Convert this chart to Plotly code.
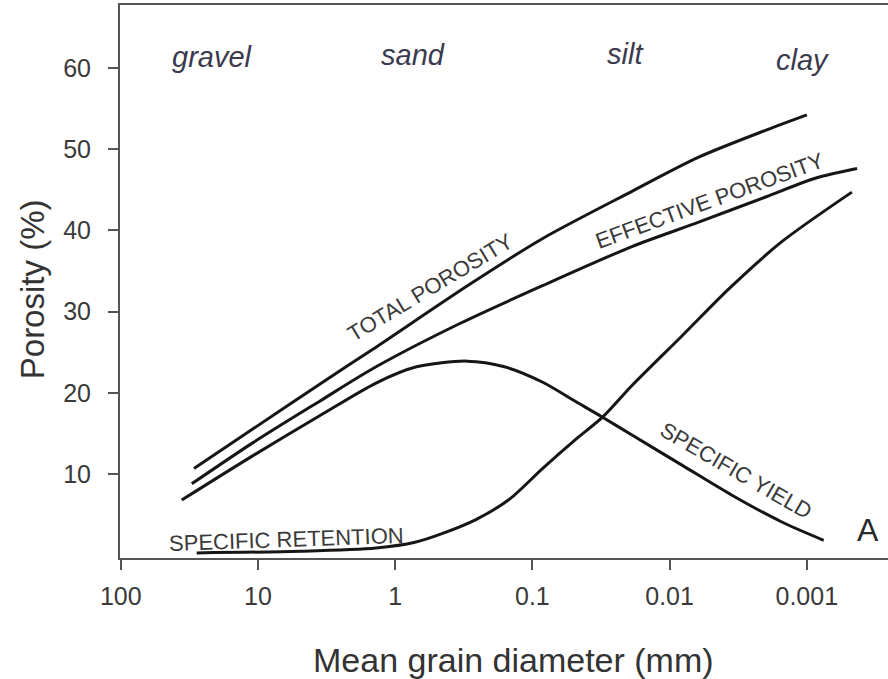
import numpy as np
import plotly.graph_objects as go

# ---- data ----
tp_d = [29.3, 10.8, 3.53, 1.445, 0.29, 0.0841, 0.0188, 0.00614, 0.0020, 0.000998]
tp_y = [10.7, 15.6, 21.1, 25.4, 33.3, 39.0, 44.8, 49.0, 52.3, 54.2]

ep_d = [30.4, 10.8, 3.53, 1.38, 0.341, 0.0841, 0.0188, 0.00614, 0.0020, 0.000867, 0.00043]
ep_y = [8.8, 13.9, 19.0, 23.2, 28.5, 33.2, 38.0, 41.0, 44.1, 46.4, 47.6]

sy_d = [36.0, 10.8, 3.53, 1.38, 0.70, 0.30, 0.16, 0.0841, 0.0481, 0.0308,
        0.0188, 0.00813, 0.00351, 0.00152, 0.000753]
sy_y = [6.8, 12.3, 17.2, 21.2, 23.2, 23.9, 23.2, 21.3, 18.9, 17.0,
        14.8, 11.1, 7.4, 4.1, 1.85]

sr_d = [28.0, 4.94, 1.38, 0.718, 0.451, 0.258, 0.147, 0.0841, 0.0481, 0.0308,
        0.0188, 0.00813, 0.0037, 0.00152, 0.000469]
sr_y = [0.3, 0.5, 0.9, 1.6, 2.7, 4.4, 6.9, 10.7, 14.3, 17.0,
        20.9, 27.0, 32.8, 38.6, 44.7]

x_tickvals = [100, 10, 1, 0.1, 0.01, 0.001]
x_ticktext = ["100", "10", "1", "0.1", "0.01", "0.001"]
y_tickvals = [10, 20, 30, 40, 50, 60]

categories = ["gravel", "sand", "silt", "clay"]
category_d = [21.5, 0.736, 0.0208, 0.00107]
category_y = [61.3, 61.6, 61.7, 61.0]

curve_labels = ["TOTAL POROSITY", "EFFECTIVE POROSITY", "SPECIFIC YIELD", "SPECIFIC RETENTION"]
curve_label_d = [0.557, 0.00508, 0.00328, 6.15]
curve_label_y = [33.0, 43.7, 10.5, 2.0]
curve_label_angle = [-31, -20, 30, -2]

# ---- figure ----
line_style = dict(color="#161616", width=3, shape="spline", smoothing=0.8)
fig = go.Figure()
for d, y, nm in [(tp_d, tp_y, "Total porosity"), (ep_d, ep_y, "Effective porosity"),
                 (sy_d, sy_y, "Specific yield"), (sr_d, sr_y, "Specific retention")]:
    fig.add_trace(go.Scatter(x=d, y=y, mode="lines", line=line_style, name=nm,
                             showlegend=False, hoverinfo="skip"))

font_family = "Liberation Sans, Arial, Helvetica, sans-serif"
annotations = []
for name, d, y in zip(categories, category_d, category_y):
    annotations.append(dict(x=np.log10(d), y=y, xref="x", yref="y", text="<i>%s</i>" % name,
                            showarrow=False, xanchor="center", yanchor="middle",
                            font=dict(family=font_family, size=29, color="#3a3a4e")))
for name, d, y, ang in zip(curve_labels, curve_label_d, curve_label_y, curve_label_angle):
    annotations.append(dict(x=np.log10(d), y=y, xref="x", yref="y", text=name, textangle=ang,
                            showarrow=False, xanchor="center", yanchor="middle",
                            font=dict(family=font_family, size=22, color="#3a3a3a")))
annotations.append(dict(x=np.log10(0.000358), y=3.1, xref="x", yref="y", text="A", showarrow=False,
                        xanchor="center", yanchor="middle",
                        font=dict(family=font_family, size=32, color="#2a2a2a")))
annotations.append(dict(x=0.513, y=-0.185, xref="paper", yref="paper", text="Mean grain diameter (mm)",
                        showarrow=False, xanchor="center", yanchor="middle",
                        font=dict(family=font_family, size=34, color="#333333")))
annotations.append(dict(x=-0.1146, y=0.486, xref="paper", yref="paper", text="Porosity (%)",
                        textangle=-90, showarrow=False, xanchor="center", yanchor="middle",
                        font=dict(family=font_family, size=33, color="#333333")))

fig.update_layout(
    width=888, height=679,
    margin=dict(l=120, r=0, t=5, b=121),
    plot_bgcolor="white", paper_bgcolor="white",
    font=dict(family=font_family, color="#3a3a3a"),
    annotations=annotations,
)
fig.update_xaxes(type="log", range=[2.006, -3.592], tickvals=x_tickvals, ticktext=x_ticktext,
                 showgrid=False, zeroline=False, showline=True, linecolor="#555555", linewidth=2,
                 mirror=True, ticks="outside", ticklen=10, tickwidth=2, tickcolor="#555555",
                 tickfont=dict(size=25, color="#3a3a3a"), ticklabelstandoff=5)
fig.update_yaxes(range=[-0.33, 67.73], tickvals=y_tickvals,
                 showgrid=False, zeroline=False, showline=True, linecolor="#555555", linewidth=2,
                 ticks="outside", ticklen=10, tickwidth=2, tickcolor="#555555",
                 tickfont=dict(size=25, color="#3a3a3a"), ticklabelstandoff=12)

fig.write_html("out.html")
